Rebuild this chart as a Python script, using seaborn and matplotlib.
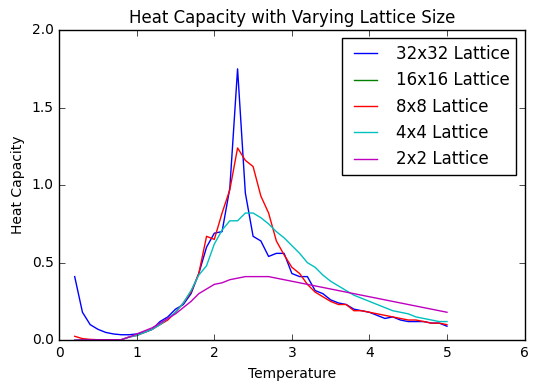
import numpy as np
import pandas as pd
import matplotlib
matplotlib.use('Agg')
import matplotlib.pyplot as plt
import seaborn as sns

# Temperatures sampled in the simulation
temps = [round(0.2 + 0.1 * i, 1) for i in range(49)]

c_32 = [0.41, 0.18, 0.10, 0.07, 0.05, 0.04, 0.035, 0.035, 0.04, 0.05,
        0.07, 0.12, 0.15, 0.20, 0.23, 0.30, 0.43, 0.60, 0.69, 0.70,
        0.98, 1.75, 0.95, 0.67, 0.64, 0.54, 0.56, 0.56, 0.43, 0.41,
        0.41, 0.32, 0.30, 0.26, 0.24, 0.23, 0.20, 0.19, 0.18, 0.16,
        0.14, 0.15, 0.13, 0.12, 0.12, 0.12, 0.11, 0.11, 0.09]
# 16x16 run has no visible curve in the figure -> missing values
c_16 = [np.nan] * len(temps)
c_8 = [0.025, 0.01, 0.005, 0.003, 0.003, 0.003, 0.003, 0.02, 0.03, 0.05,
       0.07, 0.10, 0.13, 0.18, 0.24, 0.31, 0.43, 0.67, 0.65, 0.82,
       0.97, 1.24, 1.16, 1.12, 0.93, 0.82, 0.64, 0.55, 0.47, 0.43,
       0.36, 0.31, 0.28, 0.25, 0.23, 0.23, 0.19, 0.19, 0.18, 0.17,
       0.16, 0.15, 0.14, 0.13, 0.13, 0.12, 0.11, 0.11, 0.10]
c_4 = [0.0, 0.002, 0.003, 0.003, 0.003, 0.003, 0.003, 0.02, 0.03, 0.05,
       0.07, 0.10, 0.14, 0.18, 0.24, 0.32, 0.42, 0.48, 0.62, 0.71,
       0.77, 0.77, 0.82, 0.82, 0.79, 0.75, 0.70, 0.66, 0.61, 0.56,
       0.50, 0.47, 0.42, 0.38, 0.35, 0.32, 0.29, 0.27, 0.25, 0.23,
       0.21, 0.19, 0.18, 0.17, 0.15, 0.14, 0.13, 0.12, 0.12]
c_2 = [0.0, 0.002, 0.003, 0.003, 0.003, 0.003, 0.003, 0.02, 0.04, 0.06,
       0.08, 0.11, 0.14, 0.17, 0.21, 0.25, 0.30, 0.33, 0.36, 0.37,
       0.39, 0.40, 0.41, 0.41, 0.41, 0.41, 0.40, 0.39, 0.38, 0.37,
       0.36, 0.35, 0.34, 0.33, 0.32, 0.31, 0.30, 0.29, 0.28, 0.27,
       0.26, 0.25, 0.24, 0.23, 0.22, 0.21, 0.20, 0.19, 0.18]

labels = ['32x32 Lattice', '16x16 Lattice', '8x8 Lattice', '4x4 Lattice', '2x2 Lattice']
colors = ['b', 'g', 'r', 'c', 'm']

frames = []
for lab, vals in zip(labels, [c_32, c_16, c_8, c_4, c_2]):
    frames.append(pd.DataFrame({'T': temps, 'C': vals, 'lattice': lab}))
df = pd.concat(frames, ignore_index=True)

plt.style.use('classic')
fig = plt.figure(figsize=(5.38, 3.91), dpi=100)
fig.patch.set_facecolor('white')
ax = fig.add_axes([0.11, 0.13, 0.865, 0.793])

sns.lineplot(data=df, x='T', y='C', hue='lattice', hue_order=labels,
             palette=dict(zip(labels, colors)), ax=ax, linewidth=1.0)

ax.set_xlim(0, 6)
ax.set_ylim(0, 2.0)
ax.set_xticks(range(7))
ax.set_yticks([0.0, 0.5, 1.0, 1.5, 2.0])
ax.tick_params(labelsize=10)
ax.set_title('Heat Capacity with Varying Lattice Size', fontsize=12)
ax.set_xlabel('Temperature', fontsize=10)
ax.set_ylabel('Heat Capacity', fontsize=10)
ax.legend(loc='upper right', fontsize=12)

fig.savefig('out.png', dpi=100, facecolor='white')
